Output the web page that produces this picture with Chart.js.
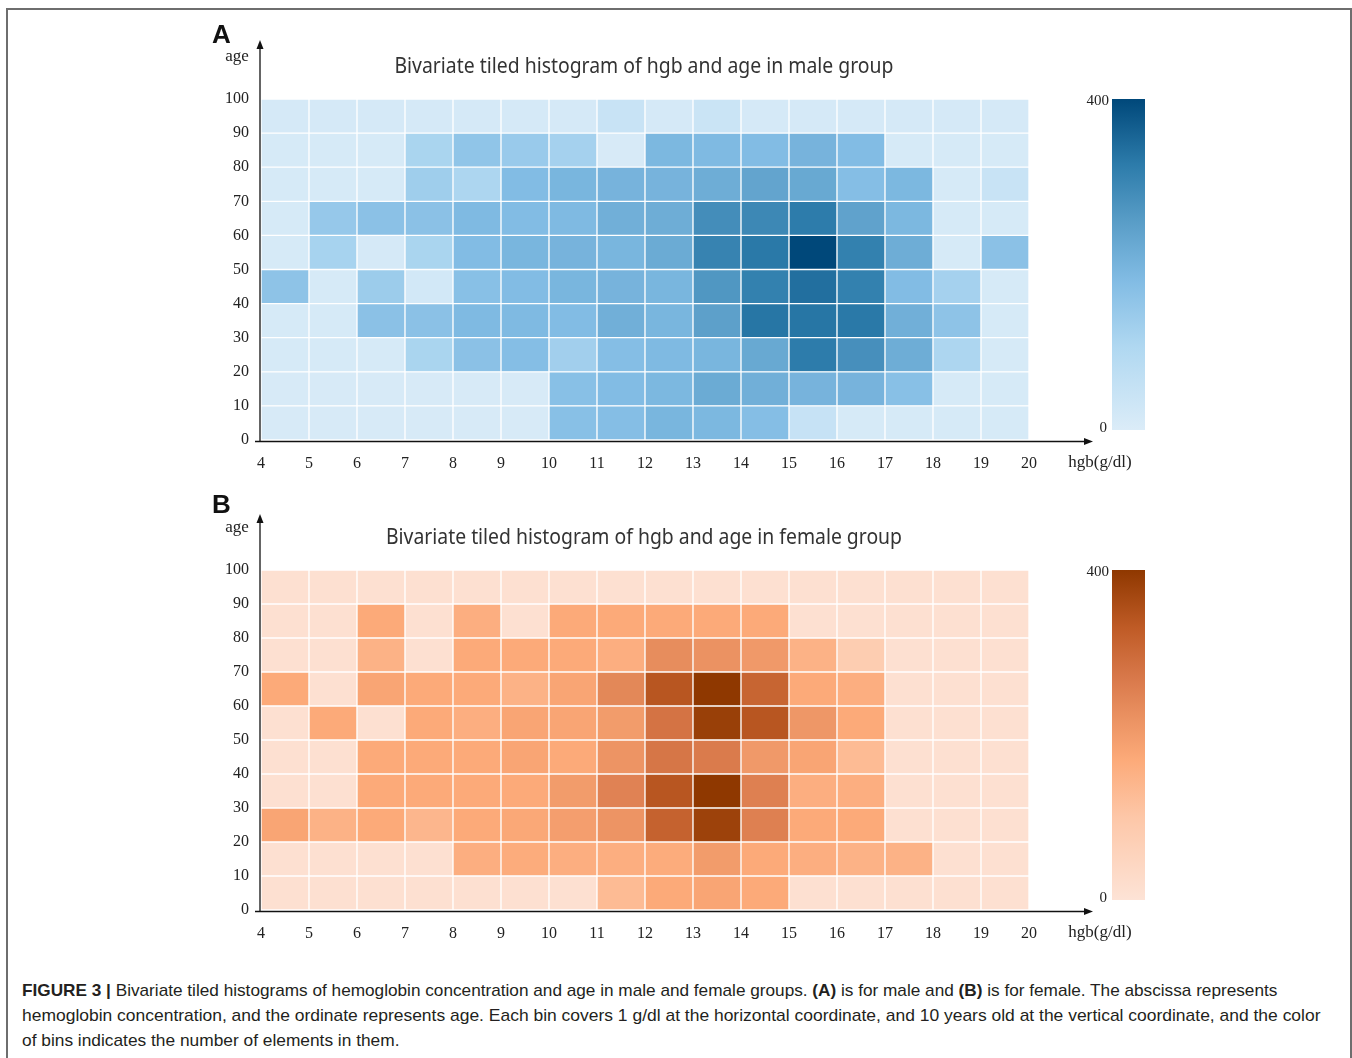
<!DOCTYPE html>
<html>
<head>
<meta charset="utf-8">
<script src="https://cdn.jsdelivr.net/npm/chart.js@4.4.1/dist/chart.umd.min.js"></script>
<style>
  body { margin: 0; background: #fff; width: 1352px; height: 1058px; position: relative; overflow: hidden; }
  #frame { position: absolute; left: 6px; top: 8px; width: 1346px; height: 1080px; border: 2px solid #6e6e6e; box-sizing: border-box; }
  .panel { position: absolute; left: 200px; width: 960px; height: 460px; }
  #caption { position: absolute; left: 22px; top: 978px; font-family: "Liberation Sans", Arial, sans-serif; font-size: 17px; line-height: 25px; color: #231f20; }
  #caption .ln { display: inline-block; white-space: nowrap; transform-origin: 0 50%; }
</style>
</head>
<body>
<div id="frame"></div>
<div class="panel" style="top:20px"><canvas id="maleChart" width="960" height="460"></canvas></div>
<div class="panel" style="top:490px"><canvas id="femaleChart" width="960" height="460"></canvas></div>
<div id="caption">
  <div class="ln"><b>FIGURE 3 |</b> Bivariate tiled histograms of hemoglobin concentration and age in male and female groups. <b>(A)</b> is for male and <b>(B)</b> is for female. The abscissa represents</div><br>
  <div class="ln">hemoglobin concentration, and the ordinate represents age. Each bin covers 1 g/dl at the horizontal coordinate, and 10 years old at the vertical coordinate, and the color</div><br>
  <div class="ln">of bins indicates the number of elements in them.</div>
</div>
<script>
// bin edges (tick labels)
var hgbEdges = [4, 5, 6, 7, 8, 9, 10, 11, 12, 13, 14, 15, 16, 17, 18, 19, 20];
var ageEdges = [0, 10, 20, 30, 40, 50, 60, 70, 80, 90, 100];
var countMax = 400;

// counts per bin, rows = age 0-10 ... 90-100, columns = hgb 4-5 ... 19-20
var maleCounts = [
  [10, 10, 10, 10, 10, 10, 170, 175, 195, 190, 175, 50, 12, 12, 12, 12],
  [10, 10, 10, 10, 10, 10, 170, 180, 190, 220, 210, 200, 200, 170, 12, 12],
  [12, 12, 12, 110, 165, 175, 125, 175, 185, 195, 225, 320, 280, 215, 105, 12],
  [12, 12, 165, 165, 185, 185, 180, 210, 195, 245, 330, 330, 325, 210, 160, 12],
  [160, 12, 135, 20, 170, 180, 195, 200, 195, 265, 310, 340, 310, 180, 120, 12],
  [12, 115, 15, 110, 180, 195, 200, 195, 220, 305, 325, 400, 310, 215, 12, 165],
  [12, 145, 165, 165, 185, 180, 185, 210, 215, 285, 295, 320, 240, 190, 12, 12],
  [12, 12, 12, 130, 105, 180, 195, 200, 200, 215, 235, 225, 175, 190, 12, 45],
  [12, 12, 12, 110, 155, 140, 120, 10, 190, 185, 180, 200, 180, 12, 12, 12],
  [15, 15, 15, 15, 15, 15, 15, 45, 15, 40, 15, 15, 15, 15, 15, 15]
];
var femaleCounts = [
  [10, 10, 10, 10, 10, 10, 10, 130, 170, 180, 170, 10, 10, 10, 10, 10],
  [10, 10, 10, 10, 160, 165, 160, 160, 165, 200, 170, 160, 150, 150, 10, 10],
  [180, 150, 170, 140, 170, 175, 195, 215, 315, 380, 255, 170, 170, 10, 10, 10],
  [10, 10, 170, 170, 170, 170, 200, 250, 340, 400, 255, 160, 160, 10, 10, 10],
  [10, 10, 170, 170, 170, 180, 170, 215, 275, 265, 205, 180, 130, 10, 10, 10],
  [10, 170, 10, 170, 160, 180, 180, 200, 280, 385, 340, 210, 170, 10, 10, 10],
  [170, 10, 180, 170, 170, 150, 180, 240, 340, 400, 310, 170, 160, 10, 10, 10],
  [10, 10, 150, 10, 170, 170, 170, 160, 230, 220, 205, 150, 80, 10, 10, 10],
  [10, 10, 170, 10, 160, 10, 170, 170, 170, 170, 170, 10, 10, 10, 10, 10],
  [10, 10, 10, 10, 10, 10, 10, 10, 10, 10, 10, 10, 10, 10, 10, 10]
];

// colour ramps
var blueStops = [[0, '#dbecf8'], [100, '#b0d8f1'], [180, '#82bce4'], [250, '#5a9ec8'], [320, '#2d7cab'], [400, '#00487a']];
var orangeStops = [[0, '#fde3d6'], [100, '#fdc7a8'], [170, '#fcaa79'], [220, '#eb9262'], [270, '#d8784a'], [330, '#bf5b26'], [400, '#8f3800']];

function hexRgb(h) {
  return [parseInt(h.substr(1, 2), 16), parseInt(h.substr(3, 2), 16), parseInt(h.substr(5, 2), 16)];
}
function colorFor(stops, v) {
  for (var i = 1; i < stops.length; i++) {
    if (v <= stops[i][0]) {
      var t = (v - stops[i - 1][0]) / (stops[i][0] - stops[i - 1][0]);
      var a = hexRgb(stops[i - 1][1]), b = hexRgb(stops[i][1]);
      return 'rgb(' + a.map(function (c, k) { return Math.round(c + (b[k] - c) * t); }).join(',') + ')';
    }
  }
  return stops[stops.length - 1][1];
}

function buildDatasets(counts, stops) {
  return counts.map(function (row, r) {
    return {
      label: ageEdges[r] + '-' + ageEdges[r + 1],
      data: row.map(function (v, c) {
        return { x: (hgbEdges[c] + hgbEdges[c + 1]) / 2, y: [ageEdges[r], ageEdges[r + 1]], count: v };
      }),
      backgroundColor: row.map(function (v) { return colorFor(stops, v); }),
      borderColor: '#ffffff',
      borderWidth: 1,
      borderSkipped: false,
      grouped: false,
      barPercentage: 1,
      categoryPercentage: 1
    };
  });
}

function arrowHead(ctx, x, y, dir) {
  ctx.beginPath();
  if (dir === 'up') { ctx.moveTo(x, y); ctx.lineTo(x - 3.5, y + 9); ctx.lineTo(x + 3.5, y + 9); }
  else { ctx.moveTo(x, y); ctx.lineTo(x - 9, y - 3.5); ctx.lineTo(x - 9, y + 3.5); }
  ctx.closePath();
  ctx.fill();
}

var decoPlugin = {
  id: 'deco',
  afterDraw: function (chart, args, o) {
    var ctx = chart.ctx, a = chart.chartArea;
    ctx.save();
    ctx.fillStyle = '#111';
    ctx.strokeStyle = '#111';
    ctx.lineWidth = 1.3;
    // axes with arrows
    ctx.beginPath();
    ctx.moveTo(a.left - 1, a.bottom + 1);
    ctx.lineTo(a.left - 1, o.arrowTop + 8);
    ctx.stroke();
    arrowHead(ctx, a.left - 1, o.arrowTop, 'up');
    ctx.beginPath();
    ctx.moveTo(a.left - 6, a.bottom + 1.5);
    ctx.lineTo(885, a.bottom + 1.5);
    ctx.stroke();
    arrowHead(ctx, 893, a.bottom + 1.5, 'right');

    // panel letter
    ctx.font = 'bold 26px "Liberation Sans", Arial, sans-serif';
    ctx.textAlign = 'left';
    ctx.textBaseline = 'middle';
    ctx.fillText(o.letter, 12, 16);

    // axis names
    ctx.fillStyle = '#222';
    ctx.font = '17px "Liberation Serif", serif';
    ctx.textAlign = 'center';
    ctx.fillText('age', 37, o.ageY);
    ctx.fillText('hgb(g/dl)', 900, a.bottom + 23);

    // title, fitted to the width it has in the figure
    ctx.font = '21px "Noto Sans", sans-serif';
    ctx.fillStyle = '#333';
    var w = ctx.measureText(o.title).width;
    ctx.save();
    ctx.translate((a.left + a.right) / 2 - 1, o.titleY);
    ctx.scale(o.titleWidth / w, 1);
    ctx.fillText(o.title, 0, 0);
    ctx.restore();

    // colour bar
    var top = a.top, bot = a.bottom - 10;
    var g = ctx.createLinearGradient(0, bot, 0, top);
    o.stops.forEach(function (s) { g.addColorStop(s[0] / countMax, s[1]); });
    ctx.fillStyle = g;
    ctx.fillRect(912, top, 33, bot - top);
    ctx.fillStyle = '#222';
    ctx.font = '15px "Liberation Serif", serif';
    ctx.textAlign = 'right';
    ctx.fillText(String(countMax), 909, top + 2);
    ctx.fillText('0', 907, bot - 2);
    ctx.restore();
  }
};

function makeChart(id, counts, stops, deco) {
  var tickFont = { family: '"Liberation Serif", serif', size: 16 };
  return new Chart(document.getElementById(id), {
    type: 'bar',
    data: { datasets: buildDatasets(counts, stops) },
    options: {
      responsive: false,
      animation: false,
      events: [],
      layout: { padding: { top: deco.areaTop, right: 131, left: 0, bottom: 0 } },
      plugins: { legend: { display: false }, tooltip: { enabled: false }, deco: deco },
      scales: {
        x: {
          type: 'linear', min: hgbEdges[0], max: hgbEdges[hgbEdges.length - 1], offset: false,
          afterBuildTicks: function (s) { s.ticks = hgbEdges.map(function (v) { return { value: v }; }); },
          afterFit: function (s) { s.height = 40; },
          grid: { display: false, drawTicks: false, offset: false },
          border: { display: false },
          ticks: { font: tickFont, color: '#222', padding: 14, maxRotation: 0, autoSkip: false }
        },
        y: {
          type: 'linear', min: ageEdges[0], max: ageEdges[ageEdges.length - 1],
          afterBuildTicks: function (s) { s.ticks = ageEdges.map(function (v) { return { value: v }; }); },
          afterFit: function (s) { s.width = 61; },
          grid: { display: false, drawTicks: false },
          border: { display: false },
          ticks: { font: tickFont, color: '#222', padding: 12, autoSkip: false }
        }
      }
    },
    plugins: [decoPlugin]
  });
}

makeChart('maleChart', maleCounts, blueStops, {
  letter: 'A', title: 'Bivariate tiled histogram of hgb and age in male group',
  titleWidth: 499, titleY: 47, ageY: 37, arrowTop: 20, areaTop: 79, stops: blueStops
});
makeChart('femaleChart', femaleCounts, orangeStops, {
  letter: 'B', title: 'Bivariate tiled histogram of hgb and age in female group',
  titleWidth: 516, titleY: 48, ageY: 38, arrowTop: 24, areaTop: 80, stops: orangeStops
});

// squeeze caption lines to the width they take in the figure
var lineWidths = [1255, 1298, 0];
var lines = document.querySelectorAll('#caption .ln');
var k1 = lineWidths[0] / lines[0].offsetWidth, k2 = lineWidths[1] / lines[1].offsetWidth;
lines[0].style.transform = 'scaleX(' + k1 + ')';
lines[1].style.transform = 'scaleX(' + k2 + ')';
lines[2].style.transform = 'scaleX(' + ((k1 + k2) / 2) + ')';
</script>
</body>
</html>
